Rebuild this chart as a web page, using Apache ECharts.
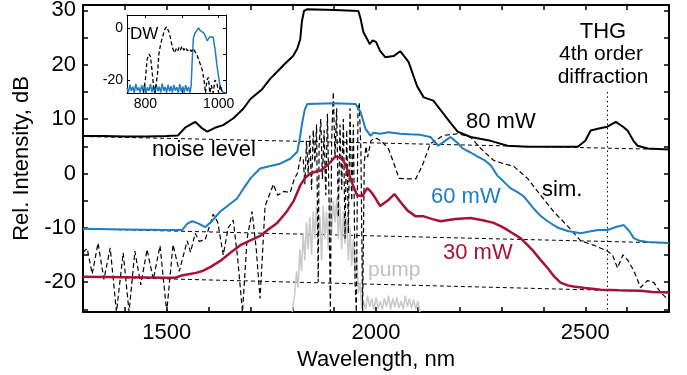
<!DOCTYPE html>
<html>
<head>
<meta charset="utf-8">
<script src="https://cdn.jsdelivr.net/npm/echarts@6/dist/echarts.min.js"></script>
<style>
  html, body { margin: 0; padding: 0; background: #fff; }
  #chart { width: 687px; height: 375px; }
</style>
</head>
<body>
<div id="chart"></div>
<script>
// measured spectra, [wavelength nm, rel. intensity dB]
var p80 = [[1300,6.9],[1350,6.9],[1400,6.8],[1450,6.8],[1500,6.9],[1527,7.0],[1545,8.5],[1568,9.5],[1583,8.4],[1597,7.7],[1615,8.4],[1635,8.9],[1660,10.2],[1683,11.9],[1700,13.7],[1728,15.5],[1747,17.4],[1765,18.8],[1780,20.0],[1802,21.6],[1812,23.0],[1819,24.7],[1823,28],[1828,29.9],[1835,30.2],[1900,30.1],[1958,29.9],[1963,28.5],[1970,26],[1979,24.7],[1985,23.8],[1992,24.5],[2000,24.2],[2010,22.5],[2022,21.4],[2042,21.6],[2058,22.5],[2078,20.5],[2098,16.1],[2114,14.0],[2137,13.4],[2161,11.0],[2178,9.3],[2195,7.7],[2226,6.7],[2274,6.0],[2314,5.1],[2360,4.9],[2410,4.9],[2482,4.9],[2500,6.0],[2513,7.9],[2535,8.3],[2553,8.6],[2573,9.5],[2590,8.6],[2601,7.9],[2615,6.0],[2625,5.1],[2649,4.6],[2700,4.4]];
var p60 = [[1300,-10.2],[1400,-10.3],[1500,-10.4],[1537,-10.4],[1550,-9.2],[1561,-8.8],[1575,-9.2],[1592,-9.9],[1610,-8.6],[1628,-7.0],[1648,-5.8],[1668,-4.6],[1685,-2.6],[1700,-0.9],[1723,0.9],[1750,1.4],[1771,1.8],[1795,2.7],[1812,4.0],[1818,6.5],[1824,9.5],[1830,11.8],[1836,12.8],[1900,12.9],[1951,12.8],[1963,11.3],[1970,9.5],[1975,8.2],[1987,6.9],[1994,7.5],[2010,7.3],[2030,7.6],[2058,7.3],[2080,7.2],[2106,7.1],[2130,6.7],[2149,5.1],[2165,6.0],[2178,6.7],[2195,5.6],[2207,4.6],[2225,3.9],[2243,3.1],[2260,2.4],[2274,1.5],[2290,-0.4],[2305,-1.5],[2321,-2.7],[2337,-3.4],[2353,-4.2],[2376,-6.4],[2393,-7.8],[2410,-8.8],[2435,-10.0],[2458,-10.6],[2489,-11.0],[2510,-10.7],[2530,-10.4],[2553,-10.4],[2575,-9.8],[2592,-9.5],[2605,-10.6],[2616,-11.9],[2630,-12.4],[2649,-12.6],[2700,-12.8]];
var p30 = [[1300,-19.0],[1400,-19.1],[1500,-19.2],[1520,-19.2],[1535,-18.8],[1549,-18.6],[1570,-18.3],[1587,-17.9],[1605,-17.2],[1628,-16.1],[1652,-14.6],[1676,-13.2],[1700,-12.3],[1723,-11.5],[1745,-10.2],[1764,-9.1],[1785,-7.2],[1803,-5.1],[1819,-2.2],[1831,-0.8],[1843,0],[1855,0.3],[1867,0.5],[1885,1.6],[1903,3.1],[1912,3.0],[1922,2.4],[1930,1.0],[1939,-0.9],[1947,-2.6],[1955,-4.0],[1967,-4.2],[1979,-2.7],[1986,-3.2],[1994,-4.0],[2010,-6.0],[2028,-5.0],[2044,-3.8],[2058,-5.2],[2075,-6.8],[2095,-7.9],[2114,-7.9],[2135,-8.4],[2154,-8.8],[2190,-8.4],[2226,-8.2],[2255,-8.6],[2281,-9.1],[2300,-9.8],[2314,-10.4],[2345,-11.9],[2360,-13.0],[2376,-14.3],[2393,-15.9],[2410,-17.4],[2425,-18.9],[2441,-20.1],[2458,-20.6],[2472,-20.8],[2500,-21.1],[2537,-21.4],[2580,-21.5],[2632,-21.6],[2660,-21.8],[2700,-21.9]];
// simulation
var sim = [[1300,-14.5],[1310,-13.8],[1322,-18.5],[1336,-12.8],[1350,-19.5],[1365,-13.7],[1380,-25.5],[1396,-14.6],[1410,-25.5],[1424,-14.3],[1438,-20.5],[1453,-14],[1468,-19.5],[1484,-13.3],[1500,-25.5],[1515,-13.1],[1530,-18],[1549,-12.4],[1557,-14.5],[1568,-11],[1578,-12.5],[1592,-12.2],[1611,-7.5],[1622,-9],[1635,-15],[1647,-10],[1659,-8.6],[1670,-16],[1681,-25.5],[1692,-12],[1704,-7],[1714,-14],[1723,-23],[1735,-6],[1755,-2],[1765,-4],[1780,-3.3],[1795,-3.5],[1805,-1],[1812,0],[1820,3],[1826,2.7],[1830,-2],[1834,6],[1838,0],[1842,7],[1846,-3],[1850,8],[1854,2],[1858,9],[1862,-20],[1864,5],[1868,10],[1872,-1],[1876,8],[1880,-4],[1884,11],[1888,-6],[1891,-25.5],[1894,6],[1898,15],[1902,3],[1906,12],[1910,-8],[1914,9],[1918,-3],[1922,10],[1926,-12],[1930,8],[1934,-11],[1938,12],[1942,-5],[1946,9],[1950,-20],[1953,-25.5],[1957,12],[1960,13],[1964,4],[1968,-25.5],[1972,2],[1976,5],[1980,3],[1988,6],[1996,6.5],[2003,6.4],[2015,5.8],[2030,4.5],[2042,2],[2055,-0.9],[2075,-1],[2095,-1],[2111,1.5],[2130,5.5],[2161,7],[2195,7.3],[2226,6.7],[2250,4.6],[2281,2.4],[2305,1.8],[2329,1.3],[2362,-0.9],[2393,-4],[2424,-7],[2458,-9.7],[2489,-12.4],[2520,-13.2],[2553,-14.3],[2565,-15],[2577,-17.4],[2590,-15],[2601,-15.9],[2616,-17.9],[2632,-21],[2649,-19.7],[2664,-20.1],[2680,-21.9],[2700,-23.4]];
var pump = [[1800,-25.5],[1806,-22],[1810,-18],[1814,-21],[1818,-14],[1822,-18],[1826,-11],[1830,-16],[1834,-9],[1838,-14],[1842,-8],[1846,-15],[1850,-7],[1854,-12],[1858,-6],[1862,-13],[1866,-8],[1870,-16],[1874,-6],[1878,-12],[1882,-7],[1886,-14],[1890,-5],[1894,-11],[1898,-5],[1902,-9],[1906,-4.5],[1910,-12],[1914,-6],[1918,-14],[1922,-7],[1926,-13],[1930,-8],[1934,-16],[1938,-10],[1942,-17],[1946,-12],[1950,-19],[1954,-15],[1958,-22],[1962,-20],[1966,-25],[1970,-23.5],[1975,-25],[1980,-22.5],[1985,-24.5],[1990,-23],[1995,-25],[2000,-22.8],[2005,-24.8],[2010,-23.5],[2015,-25],[2020,-23],[2025,-24.5],[2030,-22.5],[2035,-25],[2040,-23],[2045,-24.6],[2050,-22.8],[2055,-24.8],[2060,-23.5],[2065,-25],[2070,-22.5],[2075,-24.5],[2080,-23],[2085,-24.8],[2090,-23.2],[2095,-25],[2100,-23.5],[2105,-25.5]];
// noise floors and THG marker
var noise80 = [[1300,6.8],[2700,4.4]];
var noise60 = [[1300,-10.2],[2700,-12.8]];
var noise30 = [[1300,-19.0],[2700,-21.8]];
var thgLine = [[2553,15],[2553,-25.5]];
// inset (DW)
var dwMeas = [[750,-23],[754,-24.8],[758,-21.8],[762,-24.2],[766,-22.6],[770,-24.9],[774,-21.5],[778,-24],[782,-22.9],[786,-24.8],[790,-22],[794,-24.4],[798,-21.7],[802,-24.9],[806,-22.8],[810,-24.1],[814,-21.6],[818,-24.7],[822,-22.3],[826,-24.9],[830,-21.9],[834,-24.3],[838,-22.6],[842,-24.8],[846,-21.4],[850,-24.2],[854,-22.7],[858,-24.9],[862,-21.8],[866,-24.4],[870,-22.4],[874,-24.8],[878,-21.9],[882,-24.1],[886,-22.8],[890,-24.9],[894,-21.6],[898,-24.5],[902,-22.5],[906,-24.8],[910,-22],[914,-24.3],[918,-22.7],[922,-24.9],[925,-22],[928,-12],[931,-4],[935,-2],[940,-1],[945,0],[950,-1],[955,-0.5],[960,-2],[965,-3.5],[969,-5],[975,-3.5],[980,-3],[985,-3.5],[990,-8],[995,-14],[1000,-19],[1005,-23],[1010,-24.5],[1015,-24.8],[1020,-25]];
var dwSim = [[795,-25],[800,-20],[805,-12],[810,-10],[814,-11],[818,-16],[822,-22],[826,-25],[830,-25],[833,-18],[837,-10],[842,-6],[848,-3],[853,-0.5],[858,0.5],[862,0],[866,-2],[870,-5],[875,-8],[880,-9.5],[884,-8],[888,-9],[892,-7.5],[896,-8.5],[900,-7],[905,-8.5],[910,-7.5],[915,-8.8],[920,-8],[925,-9],[930,-8],[935,-8.5],[940,-10],[945,-12],[950,-14],[955,-16],[960,-20],[964,-25],[968,-20],[972,-19],[976,-25],[980,-22],[985,-25],[990,-20],[995,-21],[1000,-25],[1005,-22],[1010,-25]];

var yTicks = [-25,-20,-15,-10,-5,0,5,10,15,20,25,30];
var yLabels = [-20,-10,0,10,20,30];
var insetXTicks = [800,900,1000];
var insetXLabels = [800,1000];
var insetYTicks = [-20,-10,0];
var insetYLabels = [-20,0];

var FONT = '"Liberation Sans", Arial, sans-serif';
var BLUE = '#1f7dc3', RED = '#a51437', GRAY = '#c8c8c8';

var chart = echarts.init(document.getElementById('chart'));

function plain(v) { return String(v); }

function frameAxis(extra) {
    var a = {
        type: 'value',
        axisLine: { show: true, onZero: false, lineStyle: { color: '#000', width: 2 } },
        axisTick: { show: true, inside: true, length: 5, lineStyle: { color: '#000', width: 1.5 } },
        axisLabel: { show: false },
        splitLine: { show: false }
    };
    for (var k in extra) a[k] = extra[k];
    return a;
}

function line(data, color, width, type, xi, yi, z) {
    return {
        type: 'line', data: data, xAxisIndex: xi || 0, yAxisIndex: yi || 0,
        symbol: 'none', z: z || 2, silent: true,
        lineStyle: { color: color, width: width, type: type || 'solid' }
    };
}

function txt(x, y, s, color, size, align) {
    return {
        type: 'text', x: x, y: y, silent: true, z: 50,
        style: { text: s, fill: color || '#000', font: (size || 22) + 'px ' + FONT,
                 align: align || 'left', verticalAlign: 'middle' }
    };
}

var thin = { show: true, onZero: false, lineStyle: { color: '#000', width: 1 } };

var option = {
    animation: false,
    backgroundColor: '#fff',
    textStyle: { fontFamily: FONT },
    grid: [
        { left: 83, right: 18, top: 5, bottom: 63, outerBoundsMode: 'none' },
        { left: 127, top: 15, width: 99, height: 78, show: true, backgroundColor: '#fff', borderWidth: 0, z: 10, outerBoundsMode: 'none' }
    ],
    xAxis: [
        frameAxis({ gridIndex: 0, min: 1300, max: 2700, interval: 100,
            axisLabel: { show: true, color: '#000', fontSize: 22, margin: 10,
                formatter: function (v) { return v % 500 === 0 ? String(v) : ''; } },
            name: 'Wavelength, nm', nameLocation: 'middle', nameGap: 35,
            nameTextStyle: { color: '#000', fontSize: 22 } }),
        frameAxis({ gridIndex: 0, position: 'top', min: 1300, max: 2700, interval: 100 }),
        frameAxis({ gridIndex: 1, min: 750, max: 1020, z: 11, axisLine: thin,
            axisTick: { show: true, inside: true, length: 3, customValues: insetXTicks, lineStyle: { color: '#000' } },
            axisLabel: { show: true, color: '#000', fontSize: 14, margin: 4, customValues: insetXLabels, formatter: plain } }),
        frameAxis({ gridIndex: 1, position: 'top', min: 750, max: 1020, z: 11, axisLine: thin,
            axisTick: { show: true, inside: true, length: 3, customValues: insetXTicks, lineStyle: { color: '#000' } } })
    ],
    yAxis: [
        frameAxis({ gridIndex: 0, min: -25.5, max: 31,
            axisTick: { show: true, inside: true, length: 5, customValues: yTicks, lineStyle: { color: '#000', width: 1.5 } },
            axisLabel: { show: true, color: '#000', fontSize: 22, margin: 7, customValues: yLabels, formatter: plain },
            name: 'Rel. Intensity, dB', nameLocation: 'middle', nameGap: 47,
            nameTextStyle: { color: '#000', fontSize: 22 } }),
        frameAxis({ gridIndex: 0, position: 'right', min: -25.5, max: 31,
            axisTick: { show: true, inside: true, length: 5, customValues: yTicks, lineStyle: { color: '#000', width: 1.5 } } }),
        frameAxis({ gridIndex: 1, min: -25, max: 5, z: 11, axisLine: thin,
            axisTick: { show: true, inside: true, length: 3, customValues: insetYTicks, lineStyle: { color: '#000' } },
            axisLabel: { show: true, color: '#000', fontSize: 14, margin: 4, customValues: insetYLabels, formatter: plain } }),
        frameAxis({ gridIndex: 1, position: 'right', min: -25, max: 5, z: 11, axisLine: thin,
            axisTick: { show: true, inside: true, length: 3, customValues: insetYTicks, lineStyle: { color: '#000' } } })
    ],
    series: [
        line(noise80, '#000', 1, [4, 3]),
        line(noise60, '#000', 1, [4, 3]),
        line(noise30, '#000', 1, [4, 3]),
        line(thgLine, '#000', 1, [1.5, 3]),
        line(pump, GRAY, 1.5),
        line(sim, '#000', 1.2, [5, 3]),
        line(p30, RED, 2.5),
        line(p60, BLUE, 2),
        line(p80, '#000', 2),
        line(dwMeas, BLUE, 1.5, 'solid', 2, 2, 12),
        line(dwSim, '#000', 1.3, [4, 2.5], 2, 2, 13)
    ],
    graphic: [
        txt(152, 150, 'noise level'),
        txt(466, 122, '80 mW'),
        txt(431, 197, '60 mW', BLUE),
        txt(443, 253, '30 mW', RED),
        txt(542, 190, 'sim.'),
        txt(368, 270, 'pump', '#c0c0c0', 21),
        txt(603, 32, 'THG', '#000', 22, 'center'),
        txt(601, 54, '4th order', '#000', 21, 'center'),
        txt(603, 77, 'diffraction', '#000', 21, 'center'),
        txt(130, 34, 'DW', '#000', 17)
    ]
};

chart.setOption(option);
</script>
</body>
</html>
